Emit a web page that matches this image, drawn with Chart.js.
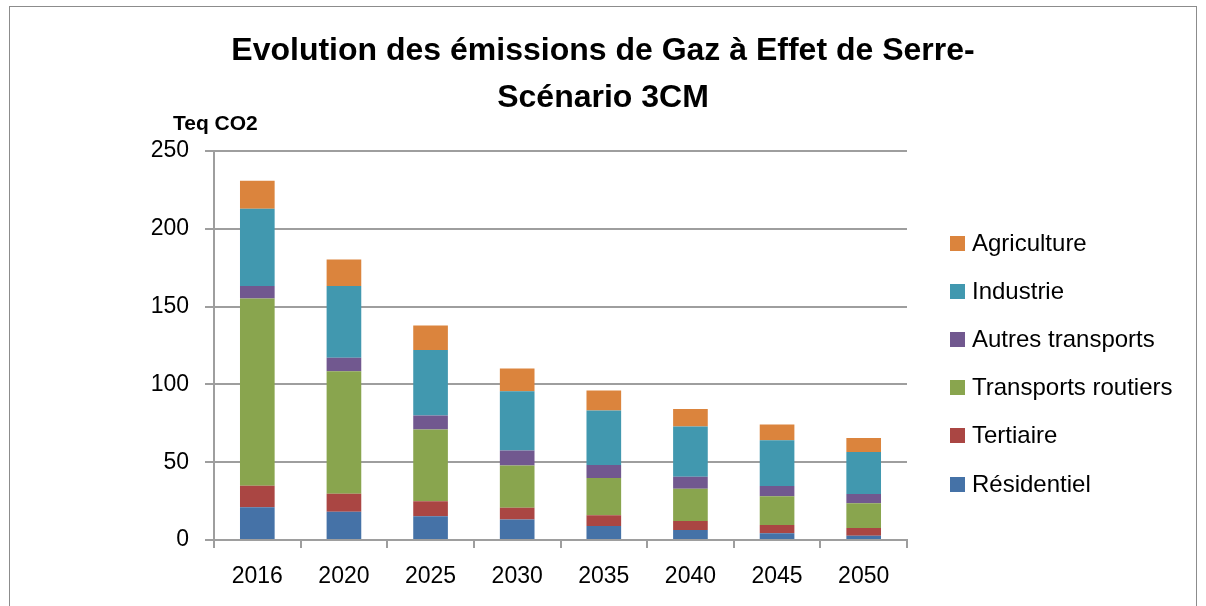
<!DOCTYPE html>
<html>
<head>
<meta charset="utf-8">
<script src="https://cdn.jsdelivr.net/npm/chart.js@4.4.1/dist/chart.umd.min.js"></script>
<style>
  html, body { margin: 0; padding: 0; background: #fff; }
  #wrap { position: relative; width: 1206px; height: 606px; overflow: hidden; }
  #frame { position: absolute; left: 9px; top: 6px; width: 1186px; height: 700px; border: 1px solid #8c8c8c; }
  #ghgChart { position: absolute; left: 0; top: 0; }
</style>
</head>
<body>
<div id="wrap">
  <div id="frame"></div>
  <canvas id="ghgChart" width="1206" height="606"></canvas>
</div>
<script>
// =========================
// DATA
// =========================

var years = ["2016", "2020", "2025", "2030", "2035", "2040", "2045", "2050"];
var residentiel = [21.0, 18.2, 15.2, 13.1, 9.0, 6.4, 4.3, 2.8];
var tertiaire = [13.8, 11.6, 9.7, 7.7, 6.9, 5.8, 5.3, 4.9];
var transportsRoutiers = [120.4, 78.6, 46.1, 27.0, 23.9, 20.8, 18.5, 15.9];
var autresTransports = [8.1, 8.8, 9.0, 9.7, 8.4, 7.7, 6.6, 6.0];
var industrie = [49.6, 46.1, 42.1, 38.1, 35.0, 32.2, 29.4, 27.0];
var agriculture = [18.0, 17.0, 15.7, 14.6, 12.8, 11.3, 10.1, 9.0];
var yTicks = [0, 50, 100, 150, 200, 250];

var fontFamily = "'Liberation Sans', Arial, sans-serif";
var gridColor = "#9e9e9e";

// =========================
// PLUGINS
// =========================

// title is centred on the whole canvas, not on the plot
var wideTitle = {
  id: "wideTitle",
  afterLayout: function (chart) {
    var t = chart.titleBlock;
    if (t) {
      t.left = 0;
      t.right = chart.width;
      t.width = chart.width;
    }
  },
};

// unit label above the y axis
var unitLabel = {
  id: "unitLabel",
  afterDraw: function (chart) {
    var ctx = chart.ctx;
    ctx.save();
    ctx.font = "bold 21px " + fontFamily;
    ctx.fillStyle = "#000";
    ctx.textAlign = "left";
    ctx.textBaseline = "alphabetic";
    ctx.fillText("Teq CO2", 173, 130);
    ctx.restore();
  },
};

// legend on the right, top item = last dataset
var sideLegend = {
  id: "sideLegend",
  afterDraw: function (chart) {
    var ctx = chart.ctx;
    var sets = chart.data.datasets.slice().reverse();
    ctx.save();
    ctx.font = "24px " + fontFamily;
    ctx.textAlign = "left";
    ctx.textBaseline = "middle";
    sets.forEach(function (ds, i) {
      var cy = 243 + i * 48.2;
      ctx.fillStyle = ds.backgroundColor;
      ctx.fillRect(950, Math.round(cy - 7.5), 15, 15);
      ctx.fillStyle = "#000";
      ctx.fillText(ds.label, 972, cy + 1);
    });
    ctx.restore();
  },
};

// =========================
// STACKED BAR CHART
// =========================

var ghgCanvas = document.getElementById("ghgChart");

if (ghgCanvas) {
  var ghgData = {
    labels: years,
    datasets: [
      { label: "Résidentiel", data: residentiel, backgroundColor: "#4572A7" },
      { label: "Tertiaire", data: tertiaire, backgroundColor: "#AA4643" },
      { label: "Transports routiers", data: transportsRoutiers, backgroundColor: "#89A54E" },
      { label: "Autres transports", data: autresTransports, backgroundColor: "#71588F" },
      { label: "Industrie", data: industrie, backgroundColor: "#4198AF" },
      { label: "Agriculture", data: agriculture, backgroundColor: "#DB843D" },
    ],
  };

  var ghgOptions = {
    responsive: false,
    animation: false,
    devicePixelRatio: 1,
    layout: {
      padding: { left: 0, top: 0, right: 299, bottom: 0 },
    },
    datasets: {
      bar: {
        barPercentage: 0.4,
        categoryPercentage: 1.0,
        borderWidth: 0,
      },
    },
    plugins: {
      legend: {
        display: false,
      },
      tooltip: {
        enabled: false,
      },
      title: {
        display: true,
        text: ["Evolution des émissions de Gaz à Effet de Serre-", "Scénario 3CM"],
        color: "#000",
        font: { family: fontFamily, size: 32, weight: "bold", lineHeight: 47 / 32 },
        padding: { top: 27.5, bottom: 29.5 },
      },
    },
    scales: {
      x: {
        stacked: true,
        afterFit: function (scale) {
          scale.height = 66;
        },
        grid: {
          display: true,
          drawOnChartArea: false,
          offset: true,
          tickLength: 8,
          color: gridColor,
          lineWidth: 2,
        },
        border: {
          display: true,
          color: gridColor,
          width: 2,
        },
        ticks: {
          color: "#000",
          padding: 15,
          font: { family: fontFamily, size: 23 },
          maxRotation: 0,
        },
      },
      y: {
        stacked: true,
        min: yTicks[0],
        max: yTicks[yTicks.length - 1],
        afterFit: function (scale) {
          scale.width = 214;
        },
        afterBuildTicks: function (scale) {
          scale.ticks = yTicks.map(function (v) {
            return { value: v };
          });
        },
        grid: {
          color: gridColor,
          lineWidth: 2,
          tickLength: 9,
        },
        border: {
          display: true,
          color: gridColor,
          width: 2,
        },
        ticks: {
          color: "#000",
          padding: 16,
          font: { family: fontFamily, size: 23 },
        },
      },
    },
  };

  new Chart(ghgCanvas, {
    type: "bar",
    data: ghgData,
    options: ghgOptions,
    plugins: [wideTitle, unitLabel, sideLegend],
  });
}
</script>
</body>
</html>
